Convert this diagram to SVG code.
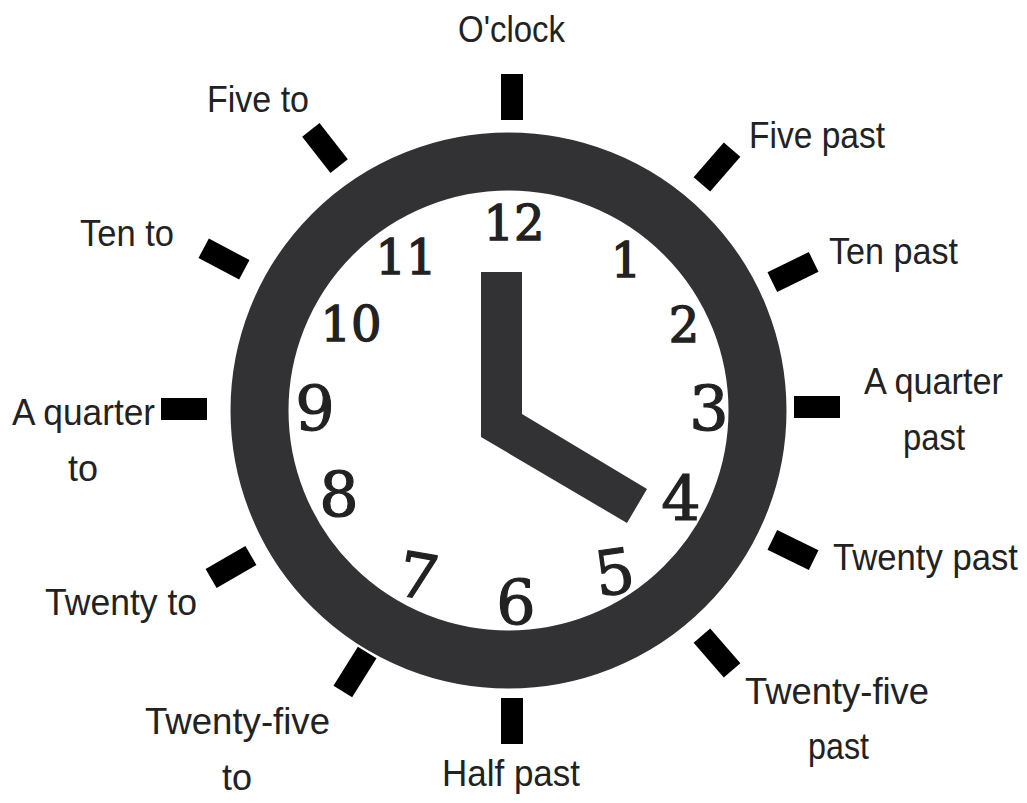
<svg xmlns="http://www.w3.org/2000/svg" width="1027" height="803" viewBox="0 0 1027 803">
<style>
.lbl{font-family:"Liberation Sans","DejaVu Sans",sans-serif;font-size:36px;fill:#222;}
.num{font-family:"DejaVu Serif","Liberation Serif",serif;fill:#222;text-anchor:middle;stroke:#222;stroke-width:1.4;}
.s{font-size:48px;}
.b{font-size:62px;stroke-width:1.2;}
.tick{fill:#000;}
.dark{fill:#323234;}
</style>
<defs>
<rect id="tk" x="-11" y="-23" width="22" height="46"/>
</defs>
<rect width="1027" height="803" fill="#fff"/>
<g id="clock">
<circle cx="508.5" cy="410.5" r="249" fill="none" stroke="#323234" stroke-width="58"/>
<polygon class="dark" points="481,272 522,272 522,414 647,489 627,523 481,437"/>
</g>
<g id="numerals">
<text class="num s" x="514" y="240">12</text>
<text class="num s" x="626" y="277">1</text>
<text class="num s" x="684" y="342">2</text>
<text class="num b" x="709" y="430">3</text>
<text class="num b" x="681" y="520">4</text>
<text class="num b" x="615" y="594" transform="rotate(-8 615 575)">5</text>
<text class="num b" x="516" y="624">6</text>
<text class="num b" x="418" y="598" transform="rotate(10 418 578)">7</text>
<text class="num b" x="339" y="516">8</text>
<text class="num b" x="315" y="430">9</text>
<text class="num s" x="351" y="341">10</text>
<text class="num s" x="406" y="274">11</text>
</g>
<g id="ticks">
<use href="#tk" class="tick" transform="translate(512,97)"/>
<use href="#tk" class="tick" transform="translate(717,167) rotate(41)"/>
<use href="#tk" class="tick" transform="translate(793,272) rotate(64)"/>
<use href="#tk" class="tick" transform="translate(817,407) rotate(90)"/>
<use href="#tk" class="tick" transform="translate(793,550) rotate(116)"/>
<use href="#tk" class="tick" transform="translate(717,653) rotate(139)"/>
<use href="#tk" class="tick" transform="translate(512,721) rotate(180)"/>
<use href="#tk" class="tick" transform="translate(355,672) rotate(212)"/>
<use href="#tk" class="tick" transform="translate(231,567) rotate(240)"/>
<use href="#tk" class="tick" transform="translate(184,409) rotate(270)"/>
<use href="#tk" class="tick" transform="translate(224,259) rotate(298)"/>
<use href="#tk" class="tick" transform="translate(325,148) rotate(322)"/>
</g>
<g id="labels">
<text class="lbl" x="458" y="42" textLength="107" lengthAdjust="spacingAndGlyphs">O'clock</text>
<text class="lbl" x="749" y="148" textLength="136" lengthAdjust="spacingAndGlyphs">Five past</text>
<text class="lbl" x="829" y="264" textLength="129" lengthAdjust="spacingAndGlyphs">Ten past</text>
<text class="lbl" x="864" y="394" textLength="139" lengthAdjust="spacingAndGlyphs">A quarter</text>
<text class="lbl" x="903" y="450" textLength="62" lengthAdjust="spacingAndGlyphs">past</text>
<text class="lbl" x="833" y="570" textLength="185" lengthAdjust="spacingAndGlyphs">Twenty past</text>
<text class="lbl" x="745" y="704" textLength="184" lengthAdjust="spacingAndGlyphs">Twenty-five</text>
<text class="lbl" x="808" y="759" textLength="61" lengthAdjust="spacingAndGlyphs">past</text>
<text class="lbl" x="442" y="786" textLength="138" lengthAdjust="spacingAndGlyphs">Half past</text>
<text class="lbl" x="145" y="734" textLength="185" lengthAdjust="spacingAndGlyphs">Twenty-five</text>
<text class="lbl" x="222" y="790" textLength="30" lengthAdjust="spacingAndGlyphs">to</text>
<text class="lbl" x="45" y="615" textLength="152" lengthAdjust="spacingAndGlyphs">Twenty to</text>
<text class="lbl" x="12" y="425" textLength="143" lengthAdjust="spacingAndGlyphs">A quarter</text>
<text class="lbl" x="68" y="481" textLength="30" lengthAdjust="spacingAndGlyphs">to</text>
<text class="lbl" x="80" y="246" textLength="94" lengthAdjust="spacingAndGlyphs">Ten to</text>
<text class="lbl" x="207" y="112" textLength="102" lengthAdjust="spacingAndGlyphs">Five to</text>
</g>
</svg>
